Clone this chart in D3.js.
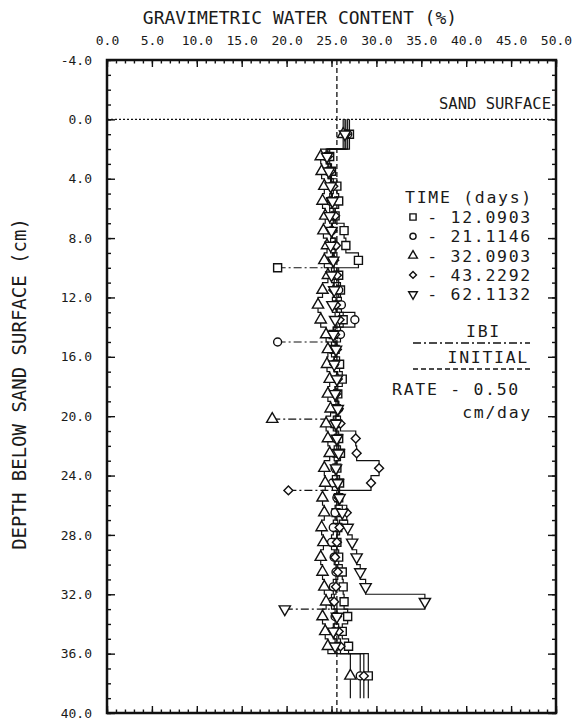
<!DOCTYPE html>
<html>
<head>
<meta charset="utf-8">
<script src="https://cdn.jsdelivr.net/npm/d3@7"></script>
<style>
body { margin:0; background:#fff; }
text { font-family: "DejaVu Sans Mono", "Liberation Mono", monospace; fill:#1a1a1a; }
</style>
</head>
<body>
<script>
// depth interval boundaries (cm), one sample per interval
var depthBounds = [0,2,3,4,5,6,7,8,9,10,11,12,13,14,15,16,17,18,19,20,21,22,23,24,25,26,27,28,29,30,31,32,33,34,35,36,39];

var times = ['12.0903','21.1146','32.0903','43.2292','62.1132'];

var wc12 = [27.0,24.8,25.0,25.6,25.8,25.4,26.4,26.6,28.0,25.8, 26.0,25.6,26.3,25.2,25.4,25.9,26.2,25.7,25.5,25.4, 25.8,26.0,25.6,25.9,25.8,25.5,25.7,25.6,25.8,26.2, 26.3,26.4,26.8,26.2,26.9,29.1];
var wc21 = [26.8,24.4,24.6,25.0,24.8,25.2,25.0,25.4,25.1,25.3, 25.8,26.1,27.6,26.0,25.0,25.3,25.6,25.4,25.8,25.2, 25.5,25.3,25.4,25.1,25.6,25.4,25.2,25.0,25.3,25.5, 25.2,25.0,25.4,25.3,25.6,28.2];
var wc32 = [26.3,23.8,23.9,24.2,24.0,24.3,24.1,24.5,24.2,24.6, 24.0,23.5,23.8,24.4,24.6,24.5,24.8,24.6,24.9,24.4, 24.6,24.8,24.2,24.3,24.0,24.2,23.9,24.1,23.8,24.0, 24.2,24.4,24.0,24.3,24.6,27.1];
var wc43 = [26.6,24.6,24.9,25.2,25.0,25.4,25.1,25.5,25.3,25.6, 25.2,25.5,25.9,25.4,25.6,25.3,25.7,25.5,25.8,26.0, 27.7,27.8,30.3,29.4,25.8,26.7,25.9,25.6,25.4,25.7, 25.5,25.3,25.6,25.8,26.0,28.6];
var wc62 = [26.5,24.5,24.7,24.9,25.1,24.8,25.0,24.9,25.2,25.0, 25.3,25.1,25.4,25.2,25.5,25.3,25.6,25.4,25.7,25.5, 25.6,25.8,25.5,25.7,25.9,26.2,26.8,27.3,27.8,28.2, 28.8,35.4,25.6,25.2,25.4];

// IBI readings, one per time
var ibiDepth = [10, 15, 20.2, 25, 33];
var ibiValue = [19.0, 19.0, 18.4, 20.2, 19.8];

var initialContent = 25.6;
var rate = '0.50';

var xTickValues = [0,5,10,15,20,25,30,35,40,45,50];
var yTickValues = [-4,0,4,8,12,16,20,24,28,32,36,40];

var series = [wc12, wc21, wc32, wc43, wc62];

var W = 579, H = 722;
var svg = d3.select('body').append('svg').attr('width', W).attr('height', H);

var x = d3.scaleLinear().domain([0, 50]).range([107, 556]);
var y = d3.scaleLinear().domain([-4, 40]).range([60, 713]);

// symbols
var symSquare = d3.symbol().type(d3.symbolSquare);
var symCircle = d3.symbol().type(d3.symbolCircle);
var symTri = d3.symbol().type(d3.symbolTriangle);
var markers = [
  {gen: symSquare, size: 64, rot: 0},
  {gen: symCircle, size: 50, rot: 0},
  {gen: symTri, size: 55, rot: 0},
  {gen: symSquare, size: 40, rot: 45},
  {gen: symTri, size: 55, rot: 180}
];
function drawMarker(g, k, cx, cy, scale) {
  var m = markers[k];
  g.append('path')
    .attr('d', m.gen.size(m.size * (scale || 1))())
    .attr('transform', 'translate(' + cx + ',' + cy + ') rotate(' + m.rot + ')')
    .attr('fill', '#fff')
    .attr('stroke', '#111')
    .attr('stroke-width', 1.4);
}

// reference lines
svg.append('line')
  .attr('x1', x(0)).attr('x2', x(50)).attr('y1', y(0)).attr('y2', y(0))
  .attr('stroke', '#111').attr('stroke-width', 1.3).attr('stroke-dasharray', '2,2');
svg.append('line')
  .attr('x1', x(initialContent)).attr('x2', x(initialContent)).attr('y1', y(-4)).attr('y2', y(40))
  .attr('stroke', '#111').attr('stroke-width', 1.3).attr('stroke-dasharray', '5,3');

svg.append('text').attr('x', 551).attr('y', 109).attr('text-anchor', 'end')
  .attr('font-size', 15.5).text('SAND SURFACE');

// profiles
var line = d3.line().x(d => x(d[0])).y(d => y(d[1]));
function valueAt(vals, depth) {
  var i = d3.bisectRight(depthBounds, depth) - 1;
  i = Math.max(0, Math.min(vals.length - 1, i));
  return vals[i];
}

series.forEach(function(vals, k) {
  var pts = [];
  vals.forEach(function(v, i) {
    pts.push([v, depthBounds[i]]);
    pts.push([v, depthBounds[i + 1]]);
  });
  svg.append('path').attr('d', line(pts))
    .attr('fill', 'none').attr('stroke', '#111').attr('stroke-width', 1.2);

  // IBI connector
  svg.append('line')
    .attr('x1', x(ibiValue[k])).attr('x2', x(valueAt(vals, ibiDepth[k])))
    .attr('y1', y(ibiDepth[k])).attr('y2', y(ibiDepth[k]))
    .attr('stroke', '#111').attr('stroke-width', 1.2).attr('stroke-dasharray', '8,3,2,3');
});

series.forEach(function(vals, k) {
  var g = svg.append('g');
  vals.forEach(function(v, i) {
    var mid = (depthBounds[i] + depthBounds[i + 1]) / 2;
    drawMarker(g, k, x(v), y(mid));
  });
  drawMarker(g, k, x(ibiValue[k]), y(ibiDepth[k]));
});

// frame and axes
svg.append('rect')
  .attr('x', x(0)).attr('y', y(-4)).attr('width', x(50) - x(0)).attr('height', y(40) - y(-4))
  .attr('fill', 'none').attr('stroke', '#111').attr('stroke-width', 2.5);

var fmt = d => d.toFixed(1);
var xMinor = d3.range(0, 51, 1);
var yMinor = d3.range(-4, 41, 1);

function styleAxis(g) {
  g.select('.domain').remove();
  g.selectAll('line').attr('stroke', '#111').attr('stroke-width', 1.4);
  g.selectAll('text').attr('font-size', 13).attr('fill', '#111')
    .style('font-family', '"DejaVu Sans Mono", monospace');
}

svg.append('g').attr('transform', 'translate(0,' + y(-4) + ')')
  .call(d3.axisTop(x).tickValues(xTickValues).tickSize(-7).tickPadding(15).tickFormat(fmt)).call(styleAxis);
svg.append('g').attr('transform', 'translate(0,' + y(-4) + ')')
  .call(d3.axisTop(x).tickValues(xMinor).tickSize(-3.5).tickFormat('')).call(styleAxis);
svg.append('g').attr('transform', 'translate(0,' + y(40) + ')')
  .call(d3.axisBottom(x).tickValues(xTickValues).tickSize(-7).tickFormat('')).call(styleAxis);
svg.append('g').attr('transform', 'translate(0,' + y(40) + ')')
  .call(d3.axisBottom(x).tickValues(xMinor).tickSize(-3.5).tickFormat('')).call(styleAxis);

svg.append('g').attr('transform', 'translate(' + x(0) + ',0)')
  .call(d3.axisLeft(y).tickValues(yTickValues).tickSize(-8).tickPadding(15).tickFormat(fmt)).call(styleAxis);
svg.append('g').attr('transform', 'translate(' + x(0) + ',0)')
  .call(d3.axisLeft(y).tickValues(yMinor).tickSize(-4).tickFormat('')).call(styleAxis);
svg.append('g').attr('transform', 'translate(' + x(50) + ',0)')
  .call(d3.axisRight(y).tickValues(yTickValues).tickSize(-8).tickFormat('')).call(styleAxis);
svg.append('g').attr('transform', 'translate(' + x(50) + ',0)')
  .call(d3.axisRight(y).tickValues(yMinor).tickSize(-4).tickFormat('')).call(styleAxis);

// titles
svg.append('text').attr('x', 300).attr('y', 24).attr('text-anchor', 'middle')
  .attr('font-size', 18).text('GRAVIMETRIC WATER CONTENT (%)');
svg.append('text').attr('transform', 'translate(26,384) rotate(-90)').attr('text-anchor', 'middle')
  .attr('font-size', 19).text('DEPTH BELOW SAND SURFACE (cm)');

// legend
var lg = svg.append('g').attr('font-size', 16.5).attr('letter-spacing', 1.7);
lg.append('text').attr('x', 533).attr('y', 203).attr('text-anchor', 'end').text('TIME (days)');
times.forEach(function(t, k) {
  var by = 223 + k * 19.3;
  drawMarker(lg, k, 413, by - 6, 0.6);
  lg.append('text').attr('x', 532).attr('y', by).attr('text-anchor', 'end').text('- ' + t);
});
lg.append('text').attr('x', 501).attr('y', 337).attr('text-anchor', 'end').text('IBI');
lg.append('line').attr('x1', 413).attr('x2', 530).attr('y1', 343).attr('y2', 343)
  .attr('stroke', '#111').attr('stroke-width', 1.3).attr('stroke-dasharray', '8,3,2,3');
lg.append('text').attr('x', 529).attr('y', 363).attr('text-anchor', 'end').text('INITIAL');
lg.append('line').attr('x1', 413).attr('x2', 530).attr('y1', 369).attr('y2', 369)
  .attr('stroke', '#111').attr('stroke-width', 1.3).attr('stroke-dasharray', '5,3');
lg.append('text').attr('x', 392).attr('y', 395).text('RATE - ' + rate);
lg.append('text').attr('x', 532).attr('y', 418).attr('text-anchor', 'end').text('cm/day');
</script>
</body>
</html>
